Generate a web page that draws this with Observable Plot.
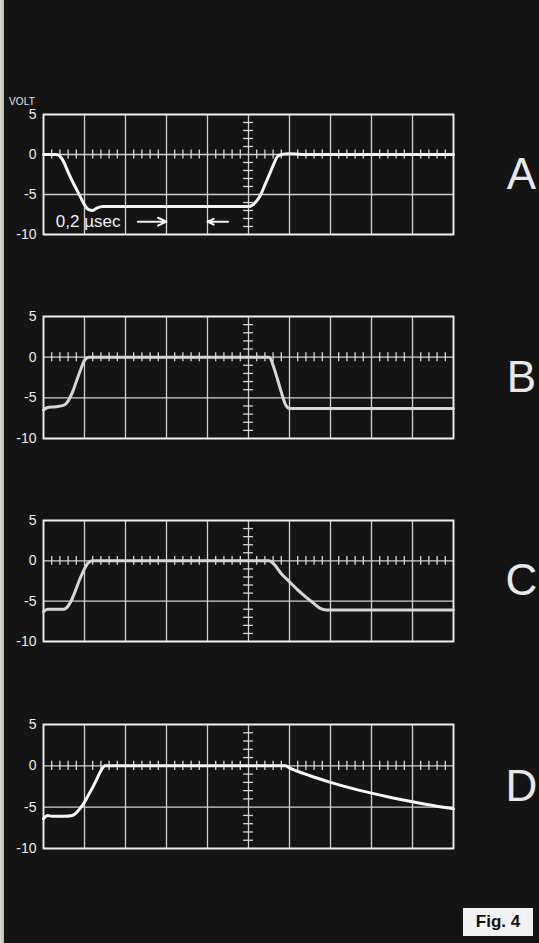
<!DOCTYPE html>
<html>
<head>
<meta charset="utf-8">
<script src="https://cdn.jsdelivr.net/npm/d3@7"></script>
<script src="https://cdn.jsdelivr.net/npm/@observablehq/plot@0.6"></script>
<style>
  html, body { margin: 0; padding: 0; }
  body { width: 539px; height: 943px; background: #141414; position: relative; overflow: hidden;
         font-family: "Liberation Sans", Arial, sans-serif; }
  #strip { position: absolute; left: 0; top: 0; width: 4px; height: 943px;
           background: linear-gradient(to right, #dcd8cf, #bdb9b0); }
  .panel { position: absolute; left: 0; }
  #volt { position: absolute; left: 9px; top: 96px; color: #e6e6e6; font-size: 10px; letter-spacing: 0.2px; }
  #fig { position: absolute; left: 463px; top: 908px; width: 70px; height: 28px; background: #f2f2f2;
         color: #111; font-weight: bold; font-size: 17px; line-height: 28px; text-align: center; }
</style>
</head>
<body>
<div id="strip"></div>
<div id="volt">VOLT</div>
<div id="fig">Fig. 4</div>
<script>
// ---- data (x in horizontal divisions, 1 division = 0.2 µsec; y in volts) ----
const panelLabels = ["A", "B", "C", "D"];
const yTicks = [5, 0, -5, -10];
const xDivisions = [0, 1, 2, 3, 4, 5, 6, 7, 8, 9, 10];

const traceA = [[0,0],[0.3,0],[0.4,-0.2],[0.5,-1],[0.6,-2.2],[0.7,-3.3],[0.8,-4.3],[0.9,-5.3],[1.0,-6.3],[1.1,-6.9],[1.2,-7],[1.3,-6.7],[1.45,-6.5],[3,-6.5],[5.0,-6.5],[5.1,-6.3],[5.2,-5.8],[5.3,-5],[5.4,-3.8],[5.5,-2.6],[5.6,-1.4],[5.7,-0.3],[5.8,0],[6.0,0.1],[6.3,0],[10,0]];
const traceB = [[0,-6.5],[0.1,-6.2],[0.3,-6.1],[0.5,-5.9],[0.6,-5.4],[0.7,-4.4],[0.8,-3],[0.9,-1.6],[1.0,-0.4],[1.1,0],[5.5,0],[5.55,-0.3],[5.6,-1],[5.7,-2.6],[5.8,-4.3],[5.9,-5.8],[6.0,-6.3],[10,-6.3]];
const traceC = [[0,-6.3],[0.1,-6],[0.5,-6],[0.6,-5.6],[0.7,-4.7],[0.8,-3.4],[0.9,-2.1],[1.0,-1],[1.1,-0.2],[1.2,0],[5.5,0],[5.6,-0.3],[5.8,-1.6],[6.0,-2.6],[6.2,-3.6],[6.4,-4.5],[6.6,-5.3],[6.75,-5.9],[6.9,-6.1],[10,-6.1]];
const traceD = [[0,-6.4],[0.1,-6],[0.2,-6.1],[0.5,-6.1],[0.7,-6],[0.8,-5.7],[0.9,-5.1],[1.0,-4.4],[1.1,-3.5],[1.2,-2.6],[1.3,-1.6],[1.4,-0.6],[1.5,0],[5.9,0],[6.0,-0.25],[6.5,-1.2],[7.0,-2.0],[7.5,-2.7],[8.0,-3.3],[8.5,-3.85],[9.0,-4.35],[9.5,-4.8],[10,-5.2]];

const annotText = [{x: 0.3, v: -8.4, label: "0,2 µsec"}];
const annotArrows = [{x1: 2.3, x2: 3.0, v: -8.4}, {x1: 4.5, x2: 4.0, v: -8.4}];

// ---- layout ----
const panelTop = [114, 316, 520, 724];
const panelInner = [120, 122, 121, 124];
const traceColor = ["#f4f4f4", "#d6d6d6", "#d6d6d6", "#f6f6f6"];
const traces = [traceA, traceB, traceC, traceD];
const M = 20;

const minorX = d3.range(0.2, 10, 0.2).filter(v => Math.abs(v - Math.round(v)) > 0.05);
const minorY = d3.range(-9, 5, 1).filter(v => v % 5 !== 0);

panelLabels.forEach((lab, i) => {
  const data = traces[i].map(([x, v]) => ({x, v}));
  const marks = [
    Plot.ruleX(xDivisions, {y1: -10, y2: 5, stroke: "#cfcfcf", strokeWidth: 1.3}),
    Plot.ruleY(yTicks, {x1: 0, x2: 10, stroke: "#cfcfcf", strokeWidth: 1.3}),
    Plot.ruleX(minorX, {y1: -0.55, y2: 0.55, stroke: "#d8d8d8", strokeWidth: 1.3}),
    Plot.ruleY(minorY, {x1: 4.88, x2: 5.12, stroke: "#d8d8d8", strokeWidth: 1.3}),
    Plot.frame({stroke: "#ececec", strokeWidth: 1.8}),
    Plot.axisY(yTicks, {label: null, tickSize: 0, tickPadding: 7, tickFormat: d => String(d), fontSize: 14, fill: "#ececec"}),
    Plot.line(data, {x: "x", y: "v", stroke: traceColor[i], strokeWidth: 3, curve: "monotone-x"}),
    Plot.text([{label: lab, v: -2.5}], {y: "v", text: "label", frameAnchor: "right", dx: 68, textAnchor: "middle",
      fontSize: 44, fill: "#e8e8e8", fontFamily: "Liberation Sans, Arial, sans-serif"})
  ];
  if (lab === "A") {
    marks.push(Plot.text(annotText, {x: "x", y: "v", text: "label", textAnchor: "start", fontSize: 17,
      fill: "#f0f0f0", letterSpacing: "2.5px"}));
    marks.push(Plot.arrow(annotArrows, {x1: "x1", x2: "x2", y1: "v", y2: "v", stroke: "#f0f0f0",
      strokeWidth: 2, headLength: 7, headAngle: 50}));
  }
  const chart = Plot.plot({
    width: 539,
    height: panelInner[i] + 2 * M,
    marginLeft: 43, marginRight: 86, marginTop: M, marginBottom: M,
    x: {domain: [0, 10], axis: null},
    y: {domain: [-10, 5], axis: null},
    style: {background: "transparent", color: "#ececec", fontFamily: "Liberation Sans, Arial, sans-serif", overflow: "visible"},
    marks
  });
  const wrap = document.createElement("div");
  wrap.className = "panel";
  wrap.style.top = (panelTop[i] - M) + "px";
  wrap.appendChild(chart);
  document.body.appendChild(wrap);
});
</script>
</body>
</html>
